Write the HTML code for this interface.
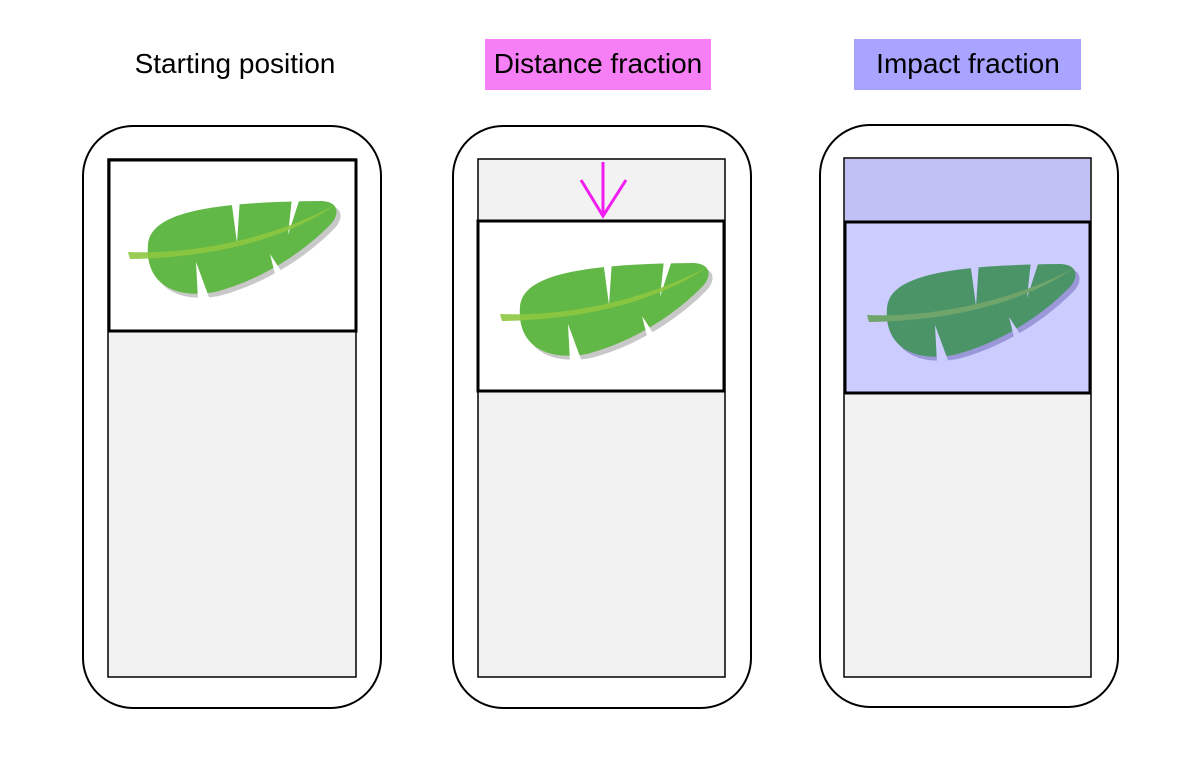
<!DOCTYPE html><html><head><style>body{margin:0;background:#fff}svg{display:block}</style></head><body>
<svg width="1200" height="780" xmlns="http://www.w3.org/2000/svg" font-family="Liberation Sans, sans-serif">
<defs>
<g id="leaf">
<path d="M152,249 C154,219 204,206 324,205 C344,205 344,219 334,229 C304,259 264,284 219,296 C174,304 149,284 152,249 Z" fill="#c8c8c8"/>
<path d="M148,245 C150,215 200,202 320,201 C340,201 340,215 330,225 C300,255 260,280 215,292 C170,300 145,280 148,245 Z" fill="currentColor"/>
<path d="M231,198 L240,198 L237,243 Z M292,198 L300,198 L288,235 Z M198,300 L210,300 L196,262 Z M277,282 L287,280 L270,254 Z" fill="#fff"/>
<path d="M128,252 C200,255 280,235 335,205 C285,240 210,258 130,259 Z" fill="#8dc63f" opacity="0.9"/>
</g>
</defs>
<text x="235" y="73" font-size="28" text-anchor="middle">Starting position</text>
<rect x="485" y="39" width="226" height="51" fill="#f77ff5"/>
<text x="598" y="73" font-size="28" text-anchor="middle">Distance fraction</text>
<rect x="854" y="39" width="227" height="51" fill="#a8a4ff"/>
<text x="968" y="73" font-size="28" text-anchor="middle">Impact fraction</text>

<rect x="83" y="126" width="298" height="582" rx="50" fill="#fff" stroke="#000" stroke-width="2"/>
<rect x="108" y="159" width="248" height="518" fill="#f2f2f2" stroke="#000" stroke-width="1.5"/>
<rect x="109" y="160" width="247" height="171" fill="#fff" stroke="#000" stroke-width="3"/>
<use href="#leaf" style="color:#62b847"/>

<rect x="453" y="126" width="298" height="582" rx="50" fill="#fff" stroke="#000" stroke-width="2"/>
<rect x="478" y="159" width="247" height="518" fill="#f2f2f2" stroke="#000" stroke-width="1.5"/>
<rect x="478" y="221" width="246" height="170" fill="#fff" stroke="#000" stroke-width="3"/>
<use href="#leaf" transform="translate(372,62)" style="color:#62b847"/>
<path d="M603,162 L603,216 M581,180 L603,216 L626,180" fill="none" stroke="#f01ef0" stroke-width="3"/>

<rect x="820" y="125" width="298" height="582" rx="50" fill="#fff" stroke="#000" stroke-width="2"/>
<rect x="844" y="158" width="247" height="519" fill="#f2f2f2" stroke="#000" stroke-width="1.5"/>
<rect x="845" y="159" width="245" height="63" fill="#c0c0f5"/>
<rect x="845" y="222" width="245" height="171" fill="#ccccff" stroke="#000" stroke-width="3"/>
<g transform="translate(739,63)">
<path d="M152,249 C154,219 204,206 324,205 C344,205 344,219 334,229 C304,259 264,284 219,296 C174,304 149,284 152,249 Z" fill="#9a98d8"/>
<path d="M148,245 C150,215 200,202 320,201 C340,201 340,215 330,225 C300,255 260,280 215,292 C170,300 145,280 148,245 Z" fill="#4b9468"/>
<path d="M231,198 L240,198 L237,243 Z M292,198 L300,198 L288,235 Z M198,300 L210,300 L196,262 Z M277,282 L287,280 L270,254 Z" fill="#ccccff"/>
<path d="M128,252 C200,255 280,235 335,205 C285,240 210,258 130,259 Z" fill="#6fa46a"/>
</g>
</svg>
</body></html>
